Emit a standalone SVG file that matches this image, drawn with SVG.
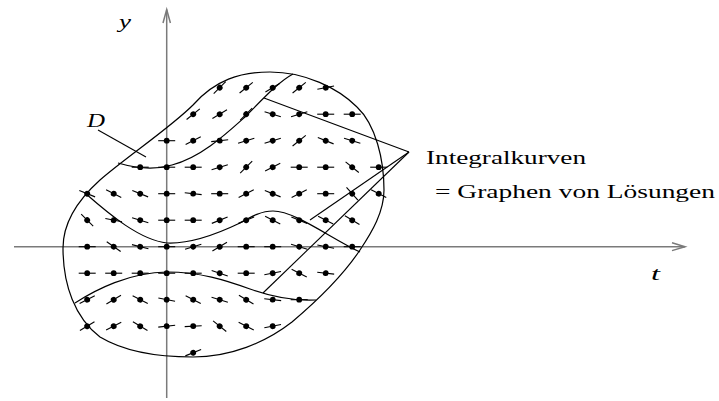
<svg xmlns="http://www.w3.org/2000/svg" xmlns:xlink="http://www.w3.org/1999/xlink" width="719" height="401" viewBox="0 0 719 401">
<style>
.ax{stroke:#7a7a7a;stroke-width:1.5;fill:none}
.cv{stroke:#000;stroke-width:1.2;fill:none}
.ln{stroke:#000;stroke-width:1.1;fill:none}
.lb{font-family:"Liberation Serif","Times New Roman",serif;font-size:19.5px;fill:#000}
.it{font-style:italic}
</style>
<defs>
<g id="m"><line x1="-8.5" y1="0" x2="8.5" y2="0" stroke="#000" stroke-width="1.1"/><circle r="2.9" fill="#000"/></g>
</defs>
<rect width="719" height="401" fill="#fff"/>
<g id="axes">
<line class="ax" x1="14" y1="246.7" x2="685" y2="246.7"/>
<polyline class="ax" points="672,242.8 685,246.7 672,250.6"/>
<line class="ax" x1="166.7" y1="398" x2="166.7" y2="9.5"/>
<polyline class="ax" points="163,23 166.7,9.5 170.4,23"/>
</g>
<g id="domain">
<path class="cv" d="M63,248 C63,285 75,318 100,337 C125,352 160,357 193,357 C230,357 265,343 292,322 C318,300 342,277 360,250 C372,232 384,212 384,190 C384,160 376,125 357,107 C338,88 305,72 270,72 C240,72 215,80 193,105 C170,128 125,158 100,180 C80,198 63,222 63,248 Z"/>
</g>
<g id="curves">
<path class="cv" d="M118,163 C135,168 155,170 172,165 C200,158 225,135 245,117 C262,100 278,82 293,74"/>
<path class="cv" d="M85,193 C110,215 140,240 167,243 C190,244 215,235 240,223 C252,216 262,211 273,211 C295,211 330,238 360,252"/>
<path class="cv" d="M75,303 C95,290 130,272 167,272 C200,272 225,280 250,289 C275,298 295,301 316,300"/>
</g>
<g id="field">
<use xlink:href="#m" transform="translate(219.7 87.7) rotate(-45)"/>
<use xlink:href="#m" transform="translate(246.2 87.7) rotate(-39)"/>
<use xlink:href="#m" transform="translate(272.7 87.7) rotate(-31)"/>
<use xlink:href="#m" transform="translate(299.2 87.7) rotate(-39)"/>
<use xlink:href="#m" transform="translate(325.7 87.7) rotate(-11)"/>

<use xlink:href="#m" transform="translate(193.2 114.2) rotate(-39)"/>
<use xlink:href="#m" transform="translate(219.7 114.2) rotate(-31)"/>
<use xlink:href="#m" transform="translate(246.2 114.2) rotate(-45)"/>
<use xlink:href="#m" transform="translate(272.7 114.2) rotate(17)"/>
<use xlink:href="#m" transform="translate(299.2 114.2) rotate(-17)"/>
<use xlink:href="#m" transform="translate(325.7 114.2)"/>
<use xlink:href="#m" transform="translate(352.2 114.2)"/>

<use xlink:href="#m" transform="translate(166.7 140.7)"/>
<use xlink:href="#m" transform="translate(193.2 140.7) rotate(-27)"/>
<use xlink:href="#m" transform="translate(219.7 140.7) rotate(-6)"/>
<use xlink:href="#m" transform="translate(246.2 140.7) rotate(-17)"/>
<use xlink:href="#m" transform="translate(272.7 140.7) rotate(-17)"/>
<use xlink:href="#m" transform="translate(299.2 140.7) rotate(-39)"/>
<use xlink:href="#m" transform="translate(325.7 140.7) rotate(22)"/>
<use xlink:href="#m" transform="translate(352.2 140.7) rotate(17)"/>

<use xlink:href="#m" transform="translate(140.2 167.2)"/>
<use xlink:href="#m" transform="translate(166.7 167.2)"/>
<use xlink:href="#m" transform="translate(193.2 167.2)"/>
<use xlink:href="#m" transform="translate(219.7 167.2) rotate(-17)"/>
<use xlink:href="#m" transform="translate(246.2 167.2) rotate(-45)"/>
<use xlink:href="#m" transform="translate(272.7 167.2) rotate(-27)"/>
<use xlink:href="#m" transform="translate(299.2 167.2)"/>
<use xlink:href="#m" transform="translate(325.7 167.2)"/>
<use xlink:href="#m" transform="translate(352.2 167.2) rotate(39)"/>
<use xlink:href="#m" transform="translate(378.7 167.2)"/>

<use xlink:href="#m" transform="translate(87.2 193.7) rotate(22)"/>
<use xlink:href="#m" transform="translate(113.7 193.7) rotate(27)"/>
<use xlink:href="#m" transform="translate(140.2 193.7) rotate(22)"/>
<use xlink:href="#m" transform="translate(166.7 193.7)"/>
<use xlink:href="#m" transform="translate(193.2 193.7) rotate(6)"/>
<use xlink:href="#m" transform="translate(219.7 193.7)"/>
<use xlink:href="#m" transform="translate(246.2 193.7) rotate(-27)"/>
<use xlink:href="#m" transform="translate(272.7 193.7) rotate(22)"/>
<use xlink:href="#m" transform="translate(299.2 193.7) rotate(-27)"/>
<use xlink:href="#m" transform="translate(325.7 193.7)"/>
<use xlink:href="#m" transform="translate(352.2 193.7) rotate(48)"/>
<use xlink:href="#m" transform="translate(378.7 193.7) rotate(27)"/>

<use xlink:href="#m" transform="translate(87.2 220.2) rotate(45)"/>
<use xlink:href="#m" transform="translate(113.7 220.2) rotate(11)"/>
<use xlink:href="#m" transform="translate(140.2 220.2) rotate(17)"/>
<use xlink:href="#m" transform="translate(166.7 220.2)"/>
<use xlink:href="#m" transform="translate(193.2 220.2)"/>
<use xlink:href="#m" transform="translate(219.7 220.2) rotate(-22)"/>
<use xlink:href="#m" transform="translate(246.2 220.2) rotate(-22)"/>
<use xlink:href="#m" transform="translate(272.7 220.2) rotate(27)"/>
<use xlink:href="#m" transform="translate(299.2 220.2) rotate(22)"/>
<use xlink:href="#m" transform="translate(325.7 220.2) rotate(27)"/>
<use xlink:href="#m" transform="translate(352.2 220.2) rotate(31)"/>

<use xlink:href="#m" transform="translate(87.2 246.7)"/>
<use xlink:href="#m" transform="translate(113.7 246.7) rotate(35)"/>
<use xlink:href="#m" transform="translate(140.2 246.7) rotate(14)"/>
<use xlink:href="#m" transform="translate(166.7 246.7)"/>
<use xlink:href="#m" transform="translate(193.2 246.7) rotate(-17)"/>
<use xlink:href="#m" transform="translate(219.7 246.7) rotate(-31)"/>
<use xlink:href="#m" transform="translate(246.2 246.7)"/>
<use xlink:href="#m" transform="translate(272.7 246.7)"/>
<use xlink:href="#m" transform="translate(299.2 246.7) rotate(17)"/>
<use xlink:href="#m" transform="translate(325.7 246.7) rotate(11)"/>
<use xlink:href="#m" transform="translate(352.2 246.7)"/>

<use xlink:href="#m" transform="translate(87.2 273.2)"/>
<use xlink:href="#m" transform="translate(113.7 273.2)"/>
<use xlink:href="#m" transform="translate(140.2 273.2)"/>
<use xlink:href="#m" transform="translate(166.7 273.2)"/>
<use xlink:href="#m" transform="translate(193.2 273.2)"/>
<use xlink:href="#m" transform="translate(219.7 273.2) rotate(19)"/>
<use xlink:href="#m" transform="translate(246.2 273.2)"/>
<use xlink:href="#m" transform="translate(272.7 273.2) rotate(-11)"/>
<use xlink:href="#m" transform="translate(299.2 273.2) rotate(27)"/>
<use xlink:href="#m" transform="translate(325.7 273.2) rotate(6)"/>

<use xlink:href="#m" transform="translate(87.2 299.7) rotate(-27)"/>
<use xlink:href="#m" transform="translate(113.7 299.7) rotate(-31)"/>
<use xlink:href="#m" transform="translate(140.2 299.7) rotate(27)"/>
<use xlink:href="#m" transform="translate(166.7 299.7) rotate(11)"/>
<use xlink:href="#m" transform="translate(193.2 299.7) rotate(27)"/>
<use xlink:href="#m" transform="translate(219.7 299.7) rotate(17)"/>
<use xlink:href="#m" transform="translate(246.2 299.7) rotate(31)"/>
<use xlink:href="#m" transform="translate(272.7 299.7) rotate(6)"/>
<use xlink:href="#m" transform="translate(299.2 299.7)"/>

<use xlink:href="#m" transform="translate(87.2 326.2) rotate(-31)"/>
<use xlink:href="#m" transform="translate(113.7 326.2) rotate(-27)"/>
<use xlink:href="#m" transform="translate(140.2 326.2) rotate(31)"/>
<use xlink:href="#m" transform="translate(166.7 326.2) rotate(-6)"/>
<use xlink:href="#m" transform="translate(193.2 326.2) rotate(-3)"/>
<use xlink:href="#m" transform="translate(219.7 326.2) rotate(39)"/>
<use xlink:href="#m" transform="translate(246.2 326.2) rotate(27)"/>
<use xlink:href="#m" transform="translate(272.7 326.2) rotate(-11)"/>

<use xlink:href="#m" transform="translate(193.2 352.7) rotate(-22)"/>
</g>
<g id="pointers">
<line class="ln" x1="98" y1="130" x2="146" y2="157"/>
<line class="ln" x1="409" y1="152" x2="264" y2="98"/>
<line class="ln" x1="409" y1="152" x2="310" y2="220"/>
<line class="ln" x1="409" y1="152" x2="263" y2="293"/>
</g>
<g id="labels">
<text class="lb it" x="119" y="28" textLength="12" lengthAdjust="spacingAndGlyphs">y</text>
<text class="lb it" x="651" y="280" textLength="9" lengthAdjust="spacingAndGlyphs">t</text>
<text class="lb it" x="87" y="126.5" font-size="21" textLength="18" lengthAdjust="spacingAndGlyphs">D</text>
<text class="lb" x="426" y="164" textLength="160" lengthAdjust="spacingAndGlyphs">Integralkurven</text>
<text class="lb" x="435" y="198" textLength="280" lengthAdjust="spacingAndGlyphs">= Graphen von Lösungen</text>
</g>
</svg>
